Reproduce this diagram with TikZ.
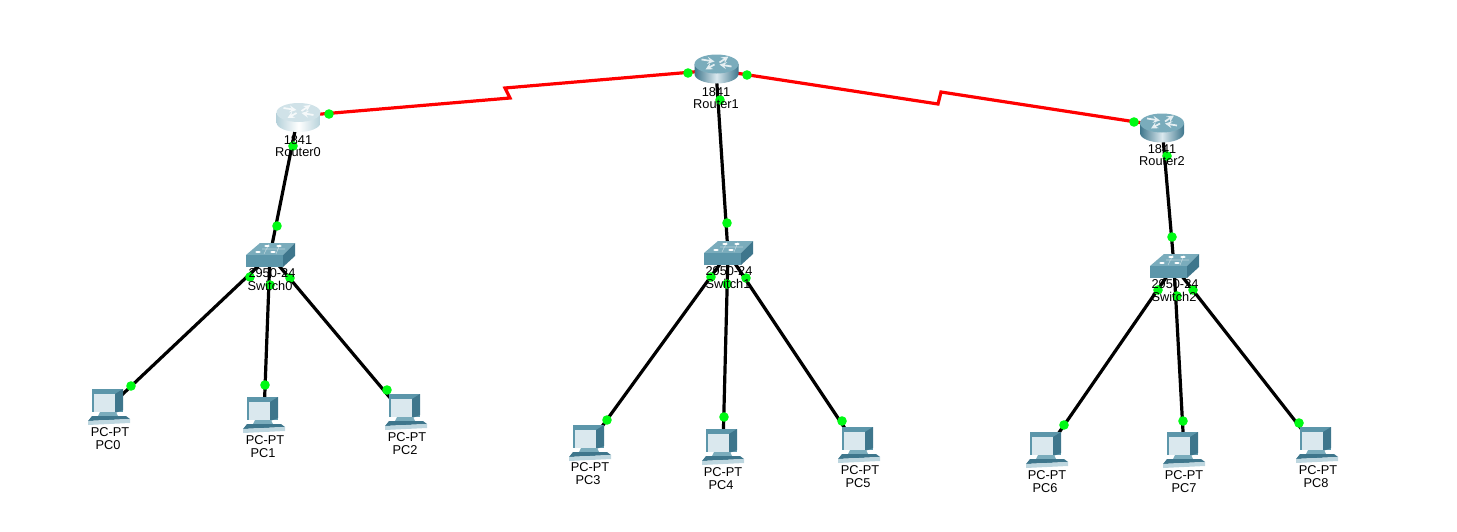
\documentclass[tikz,border=0pt]{standalone}
\usepackage{fontspec}
\setmainfont{Liberation Sans}
\definecolor{portgreen}{RGB}{0,250,20}
\definecolor{tealdark}{RGB}{62,118,140}
\definecolor{tealmid}{RGB}{92,150,170}
\definecolor{teallight}{RGB}{122,172,188}
\definecolor{screenblue}{RGB}{218,232,238}
\tikzset{
  lan/.style={black,line width=2.4pt},
  serial/.style={red,line width=2.4pt},
  port/.style={circle,fill=portgreen,inner sep=0pt,minimum size=7.2pt},
  devlabel/.style={font=\fontsize{9.6}{9.6}\selectfont,inner sep=0pt},
  pics/routericon/.style n args={3}{code={
    \path[left color=#2,right color=#2,middle color=#3]
      (-22,-3.5) -- (-22,6.5) arc[start angle=180,end angle=0,x radius=22,y radius=9.5] -- (22,-3.5) -- cycle;
    \fill[#1] (0,-3.5) ellipse[x radius=22,y radius=9.5];
    \draw[white,line width=1.3pt,opacity=.8,->,>=stealth] (-15,-8) -- (-2,-6);
    \draw[white,line width=1.3pt,opacity=.8,->,>=stealth] (3,-5) -- (12,-11);
    \draw[white,line width=1.3pt,opacity=.8,->,>=stealth] (-2,-3) -- (-11,2);
    \draw[white,line width=1.3pt,opacity=.8,->,>=stealth] (15,-1) -- (3,-3);
  }},
  pics/switchicon/.style={code={
    \fill[teallight] (-10,-12) -- (25,-12) -- (13,0) -- (-24,0) -- cycle;
    \fill[tealmid] (-24,0) -- (13,0) -- (13,12) -- (-24,12) -- cycle;
    \fill[tealdark] (13,0) -- (25,-12) -- (25,1) -- (13,12) -- cycle;
    \foreach \px/\py in {-12/-3,-3/-9,9/-9,3/-3}
      \fill[white] (\px,\py) ellipse[x radius=2.6,y radius=1];
    \draw[white,opacity=.5,line width=.4pt] (-8,-6) -- (15,-6) (-1,-11) -- (-6,-1) (10,-11) -- (6,-1);
  }},
  pics/pcicon/.style={code={
    \fill[tealmid] (-14,-18) -- (17,-18) -- (17,5) -- (-14,5) -- cycle;
    \fill[tealdark] (9,-13) -- (17,-18) -- (17,3) -- (9,6) -- cycle;
    \fill[screenblue] (-12,-13) -- (9,-13) -- (9,5) -- (-12,5) -- cycle;
    \fill[teallight] (-6,5) -- (10,5) -- (12,9) -- (-8,9) -- cycle;
    \fill[tealdark] (-14,9) -- (20,9) -- (24,12) -- (-18,14) -- cycle;
    \fill[screenblue!70!teallight] (-18,14) -- (24,12) -- (24,16) -- (-18,18) -- cycle;
  }},
}
\begin{document}
\begin{tikzpicture}[x=0.75pt,y=0.75pt,yscale=-1,xscale=1]
\useasboundingbox (0,0) rectangle (1457,532);
% device centres
\coordinate (router0) at (298,116);
\coordinate (router1) at (716,70);
\coordinate (router2) at (1162,126);
\coordinate (switch0) at (270,255);
\coordinate (switch1) at (728,253);
\coordinate (switch2) at (1174,266);
\coordinate (bendA) at (510,98);
\coordinate (bendB) at (505,88);
\coordinate (bendC) at (938,104);
\coordinate (bendD) at (941,92);
\foreach \sw/\n/\lx/\ly in {switch0/0/108/408,switch0/1/264/415,switch0/2/402/412,
    switch1/3/590/443,switch1/4/723/447,switch1/5/856/445,
    switch2/6/1047/450,switch2/7/1184/450,switch2/8/1314/445}
  \draw[lan] (\sw) -- (\lx,\ly) coordinate (pc\n);
% links
\draw[lan] (router0) -- (switch0);
\draw[lan] (router1) -- (switch1);
\draw[lan] (router2) -- (switch2);
\draw[serial] (router0) -- (bendA) -- (bendB) -- (router1);
\draw[serial] (router1) -- (bendC) -- (bendD) -- (router2);
% icons
\pic[transform shape] at (298.5,116) {routericon={teallight!35!white}{teallight!55!white}{white}};
\pic[transform shape] at (716.5,67.5) {routericon={teallight}{tealdark}{screenblue}};
\pic[transform shape] at (1162,126.5) {routericon={teallight}{tealdark}{screenblue}};
\pic[transform shape] at (switch0) {switchicon};
\pic[transform shape] at (switch1) {switchicon};
\pic[transform shape] at (switch2) {switchicon};
\foreach \n/\x/\y in {0/106/407,1/261/415,2/403/412,3/587/443,4/720/447,5/856/445,6/1044/450,7/1181/450,8/1314/445}
  \pic[transform shape] at (\x,\y) {pcicon};
% ports
\foreach \x/\y [count=\i] in {329/114,293/146,688/73,747/75,720/100,1134/122,1167/156,
    277/226,250/277,270/285,290/278,727/223,711/277,727/284,746/278,1172/237,1158/290,1177/296,1193/290,
    131/386,265/385,387/390,607/420,724/417,842/421,1064/425,1183/421,1299/423}
  \node[port] (port\i) at (\x,\y) {};
% labels
\foreach \r/\x/\y in {0/298/140,1/716/92,2/1162/149}{
  \node[devlabel] (router\r-type) at (\x,\y) {1841};
  \node[devlabel] (router\r-name) at (\x,\y+12) {Router\r};
}
\foreach \s/\x/\y/\nx in {0/272/273/270,1/729/271/728,2/1175/284/1174}{
  \node[devlabel] (switch\s-type) at (\x,\y) {2950-24};
  \node[devlabel] (switch\s-name) at (\nx,\y+12.5) {Switch\s};
}
\foreach \n/\x/\y/\nx in {0/110/432/108,1/265/440/263,2/407/437/405,3/590/467/588,4/723/472/721,5/860/470/858,6/1047/475/1045,7/1184/475/1184,8/1318/470/1316}{
  \node[devlabel] (pc\n-type) at (\x,\y) {PC-PT};
  \node[devlabel] (pc\n-name) at (\nx,\y+13) {PC\n};
}
\end{tikzpicture}
\end{document}
